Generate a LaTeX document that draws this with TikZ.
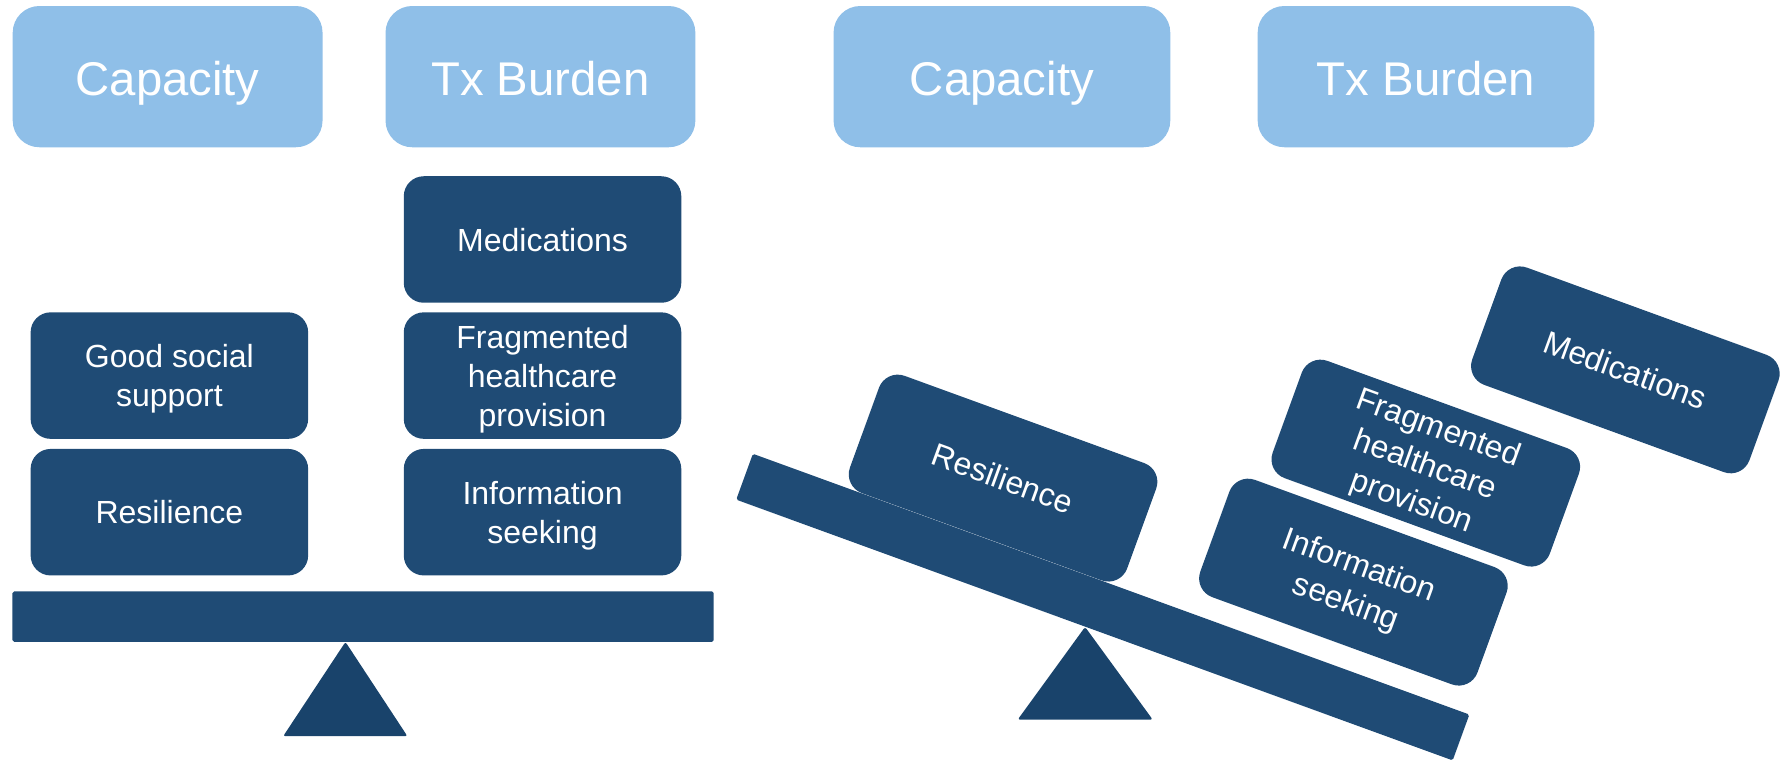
\documentclass[tikz,border=0pt]{standalone}
\usepackage{fontspec}
\setmainfont{Liberation Sans}
\definecolor{hdr}{HTML}{8FBFE8}
\definecolor{navy}{HTML}{1F4B75}
\definecolor{navydk}{HTML}{19436B}
\begin{document}
\begin{tikzpicture}[x=1pt,y=1pt,
  header/.style={fill=hdr, rounded corners=23.5pt, minimum height=124.5pt,
    inner sep=0pt, text=white, text height=34pt, text depth=0pt,
    font=\fontsize{41.7}{50}\selectfont},
  item/.style={fill=navy, rounded corners=17.6pt, inner sep=0pt,
    text=white, align=center, text depth=0pt,
    font=\fontsize{28.2}{34.4}\selectfont},
  itemL/.style={item, minimum width=244.6pt, minimum height=111.5pt},
  itemR/.style={item, minimum width=260pt, minimum height=110pt, rotate=-20},
  beam/.style={fill=navy, inner sep=0pt, rounded corners=1.5pt},
  pivot/.style={fill=navydk, rounded corners=2pt}
]
\useasboundingbox (0,0) rectangle (1568.9,669);

% ---------- balanced scale ----------
\node[header, minimum width=273.1pt] (capL) at (147.75,601.45) {Capacity};
\node[header, minimum width=273.1pt] (txL)  at (476.35,601.45) {Tx Burden};

\node[itemL] (socL) at (149.3,337.95) {Good social\\support};
\node[itemL] (resL) at (149.3,217.55) {Resilience};
\node[itemL] (medL) at (478.2,457.9)  {Medications};
\node[itemL] (frgL) at (478.2,337.95) {Fragmented\\healthcare\\provision};
\node[itemL] (infL) at (478.2,217.55) {Information\\seeking};

\node[beam, minimum width=618pt, minimum height=44.6pt] (beamL) at (320,125.5) {};
\fill[pivot] (304.5,103.2) -- (359.1,20.1) -- (249.6,20.1) -- cycle;

% ---------- tipped scale ----------
\node[header, minimum width=296.8pt] (capR) at (883.1,601.45) {Capacity};
\node[header, minimum width=296.8pt] (txR)  at (1256.9,601.45) {Tx Burden};

\node[itemR] (resR) at (884.1,247.6)  {Resilience};
\node[itemR] (infR) at (1192.9,155.9) {Information\\seeking};
\node[itemR] (frgR) at (1256.7,260.8) {Fragmented\\healthcare\\provision};
\node[itemR] (medR) at (1432.6,343.0) {Medications};

\node[beam, minimum width=672pt, minimum height=43pt, rotate=-20] (beamR) at (972,133.9) {};
\fill[pivot] (956.4,116.4) -- (1016,34.7) -- (897,34.7) -- cycle;
\end{tikzpicture}
\end{document}
